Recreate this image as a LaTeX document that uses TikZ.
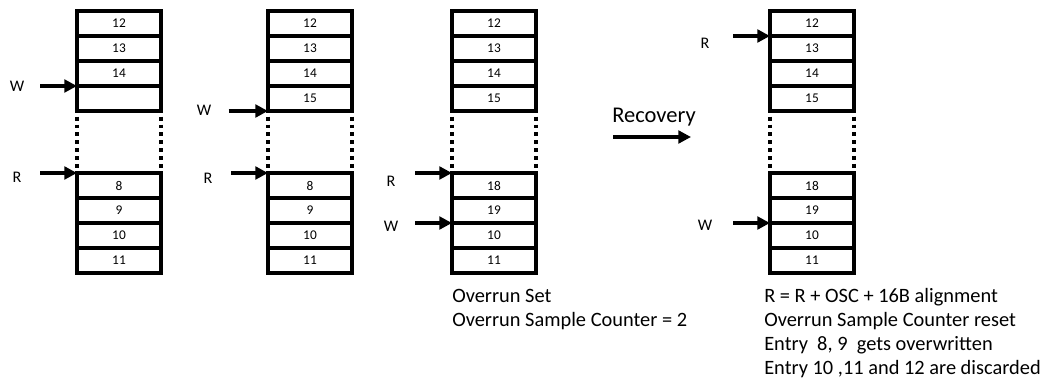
\documentclass[tikz,border=0pt]{standalone}
\usepackage{fontspec}
\setmainfont{Carlito}
\usetikzlibrary{arrows.meta}

\tikzset{
cell/.style={draw, line width=2.2pt, minimum width=2.1cm, minimum height=0.625cm, inner sep=0pt, outer sep=0pt, font=\fontsize{9.5}{11}\selectfont},
outline/.style={line width=3pt, line join=round},
gap/.style={line width=2.8pt, dash pattern=on 2.8pt off 2.8pt},
ptr/.style={line width=2.8pt, -{Triangle[length=9pt,width=9pt]}},
lbl/.style={font=\fontsize{11.5}{13}\selectfont},
note/.style={font=\fontsize{14.5}{17}\selectfont, align=left, anchor=north west, inner sep=0pt}
}

\begin{document}
\begin{tikzpicture}[x=0.025cm,y=-0.025cm]
\useasboundingbox (0,0) rectangle (1044,380);

% first buffer
\node[cell] (a1) at (119,23.5) {12};
\node[cell] (a2) at (119,48.5) {13};
\node[cell] (a3) at (119,73.5) {14};
\node[cell] (a4) at (119,98.5) {};
\node[cell] (a5) at (119,185.5) {8};
\node[cell] (a6) at (119,210.5) {9};
\node[cell] (a7) at (119,235.5) {10};
\node[cell] (a8) at (119,260.5) {11};
\draw[outline] (a1.north west) rectangle (a4.south east);
\draw[outline] (a5.north west) rectangle (a8.south east);
\draw[gap] ([yshift=-4pt]a4.south west)--(a5.north west);
\draw[gap] ([yshift=-4pt]a4.south east)--(a5.north east);

\node[lbl] (w1) at (17,86) {W};
\node[lbl] (r1) at (17,177) {R};
\draw[ptr] ([xshift=-26pt]a3.south west)--(a3.south west);
\draw[ptr] ([xshift=-26pt]a5.north west)--(a5.north west);

% second buffer
\node[cell] (b1) at (310,23.5) {12};
\node[cell] (b2) at (310,48.5) {13};
\node[cell] (b3) at (310,73.5) {14};
\node[cell] (b4) at (310,98.5) {15};
\node[cell] (b5) at (310,185.5) {8};
\node[cell] (b6) at (310,210.5) {9};
\node[cell] (b7) at (310,235.5) {10};
\node[cell] (b8) at (310,260.5) {11};
\draw[outline] (b1.north west) rectangle (b4.south east);
\draw[outline] (b5.north west) rectangle (b8.south east);
\draw[gap] ([yshift=-4pt]b4.south west)--(b5.north west);
\draw[gap] ([yshift=-4pt]b4.south east)--(b5.north east);

\node[lbl] (w2) at (204,110) {W};
\node[lbl] (r2) at (208,178) {R};
\draw[ptr] ([xshift=-28pt]b4.south west)--(b4.south west);
\draw[ptr] ([xshift=-26pt]b5.north west)--(b5.north west);

% third buffer
\node[cell] (c1) at (494,23.5) {12};
\node[cell] (c2) at (494,48.5) {13};
\node[cell] (c3) at (494,73.5) {14};
\node[cell] (c4) at (494,98.5) {15};
\node[cell] (c5) at (494,185.5) {18};
\node[cell] (c6) at (494,210.5) {19};
\node[cell] (c7) at (494,235.5) {10};
\node[cell] (c8) at (494,260.5) {11};
\draw[outline] (c1.north west) rectangle (c4.south east);
\draw[outline] (c5.north west) rectangle (c8.south east);
\draw[gap] ([yshift=-4pt]c4.south west)--(c5.north west);
\draw[gap] ([yshift=-4pt]c4.south east)--(c5.north east);

\node[lbl] (r3) at (391,181) {R};
\node[lbl] (w3) at (391,226) {W};
\draw[ptr] ([xshift=-26pt]c5.north west)--(c5.north west);
\draw[ptr] ([xshift=-26pt]c6.south west)--(c6.south west);

\node[note] (ovr) at (452,289) {Overrun Set\\Overrun Sample Counter = 2};

% recovery
\node[font=\fontsize{16}{19}\selectfont] (rec) at (654,117) {Recovery};
\coordinate (recA) at (613,137);
\coordinate (recB) at (691,137);
\draw[ptr] (recA)--(recB);

% fourth buffer
\node[cell] (d1) at (812,23.5) {12};
\node[cell] (d2) at (812,48.5) {13};
\node[cell] (d3) at (812,73.5) {14};
\node[cell] (d4) at (812,98.5) {15};
\node[cell] (d5) at (812,185.5) {18};
\node[cell] (d6) at (812,210.5) {19};
\node[cell] (d7) at (812,235.5) {10};
\node[cell] (d8) at (812,260.5) {11};
\draw[outline] (d1.north west) rectangle (d4.south east);
\draw[outline] (d5.north west) rectangle (d8.south east);
\draw[gap] ([yshift=-4pt]d4.south west)--(d5.north west);
\draw[gap] ([yshift=-4pt]d4.south east)--(d5.north east);

\node[lbl] (r4) at (705,43) {R};
\node[lbl] (w4) at (705,225) {W};
\draw[ptr] ([xshift=-26pt]d1.south west)--(d1.south west);
\draw[ptr] ([xshift=-26pt]d6.south west)--(d6.south west);

\node[note] (rst) at (764,288) {R = R + OSC + 16B alignment\\Overrun Sample Counter reset\\Entry\ \ 8, 9\ \ gets overwritten\\Entry 10 ,11 and 12 are discarded};

\end{tikzpicture}
\end{document}
